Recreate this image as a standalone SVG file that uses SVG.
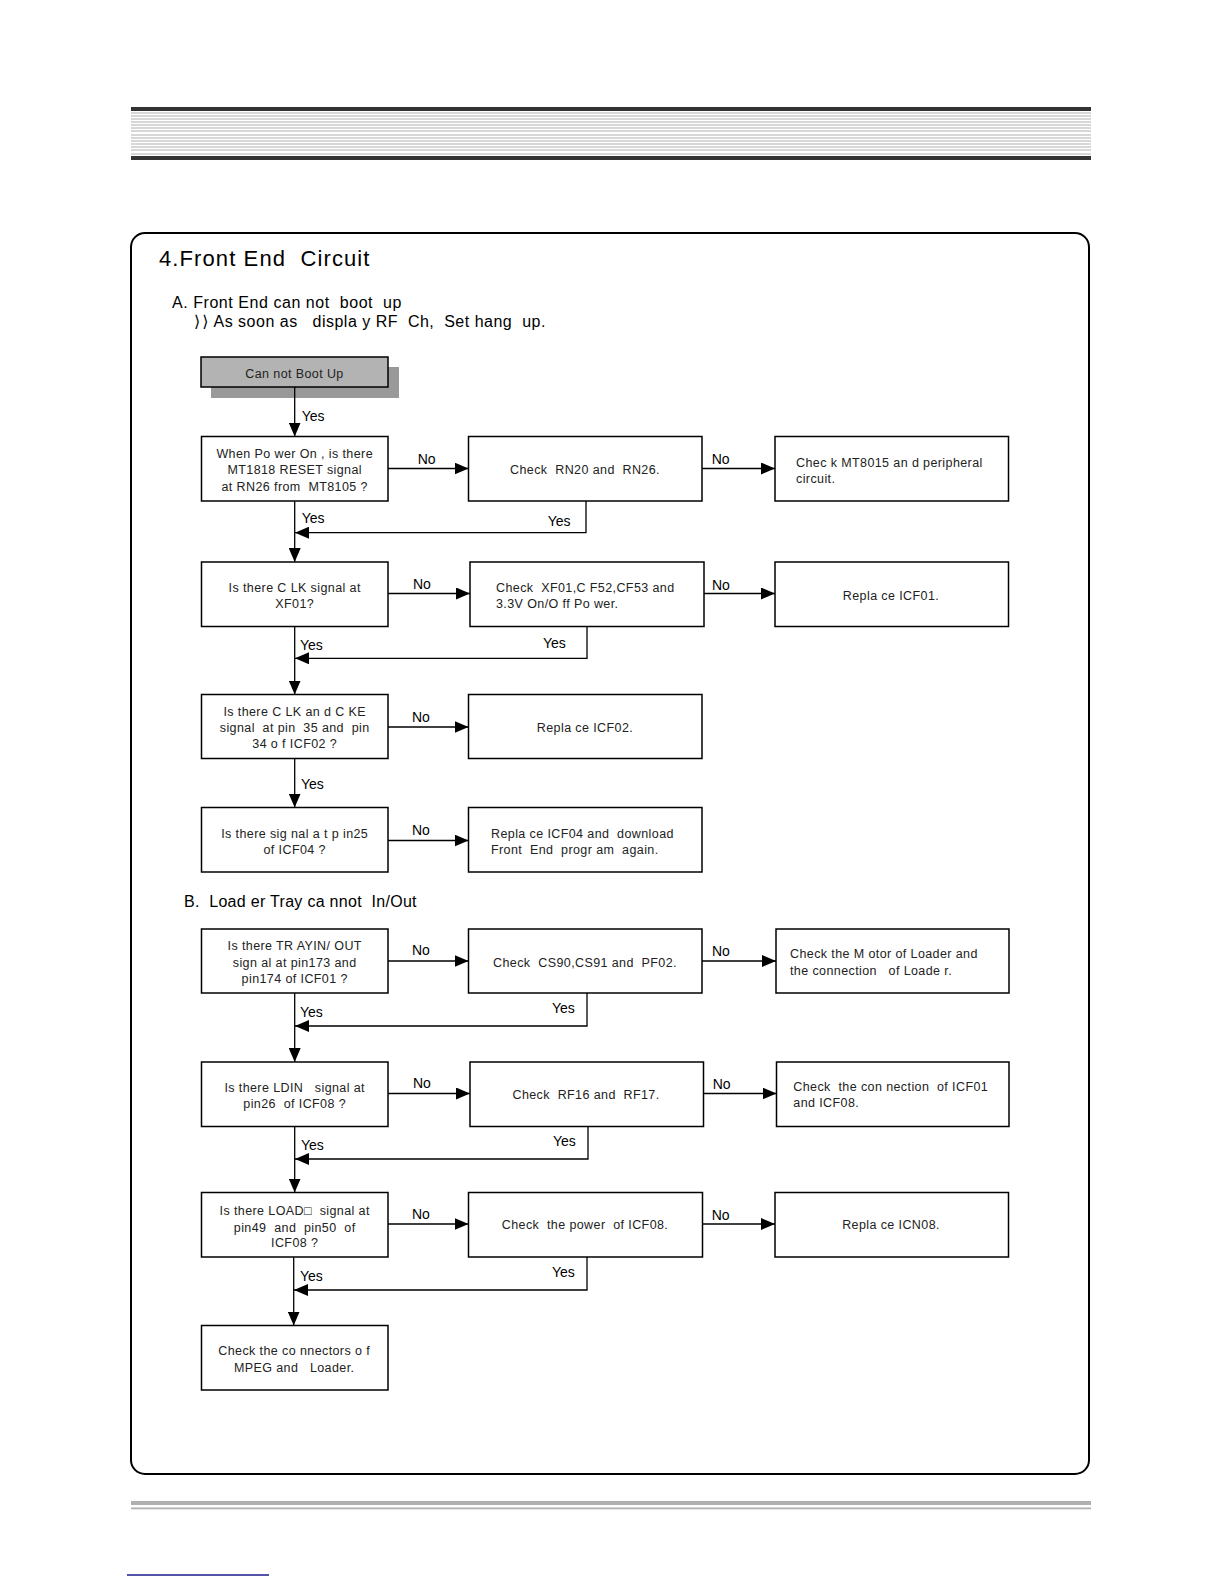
<svg xmlns="http://www.w3.org/2000/svg" width="1224" height="1584" viewBox="0 0 1224 1584" xml:space="preserve">
<style>
text{white-space:pre}
.node{fill:#fff;stroke:#000;stroke-width:1.5}
.t{font-family:"Liberation Sans",Arial,sans-serif;font-size:12.5px;letter-spacing:0.4px;fill:#222}
.c{text-anchor:middle}
.lbl{font-family:"Liberation Sans",Arial,sans-serif;font-size:14px;fill:#000}
.hd{font-family:"Liberation Sans",Arial,sans-serif;fill:#000}
.ln{fill:none;stroke:#000;stroke-width:1.3}
.gl{stroke:#b0b0b0;stroke-width:1.2}
</style>
<defs>
<marker id="ah" markerUnits="userSpaceOnUse" markerWidth="14" markerHeight="12" refX="14" refY="6" orient="auto" viewBox="0 0 14 12">
<path d="M0,0 L14,6 L0,12 z" fill="#000"/>
</marker>
</defs>
<rect width="1224" height="1584" fill="#fff"/>
<g id="header">
<rect x="131" y="107" width="960" height="4" fill="#333"/>
<g class="gl">
<line x1="131" y1="113" x2="1091" y2="113"/>
<line x1="131" y1="116" x2="1091" y2="116"/>
<line x1="131" y1="119" x2="1091" y2="119"/>
<line x1="131" y1="122" x2="1091" y2="122"/>
<line x1="131" y1="125" x2="1091" y2="125"/>
<line x1="131" y1="128" x2="1091" y2="128"/>
<line x1="131" y1="131" x2="1091" y2="131"/>
<line x1="131" y1="135" x2="1091" y2="135"/>
<line x1="131" y1="138" x2="1091" y2="138"/>
<line x1="131" y1="141" x2="1091" y2="141"/>
<line x1="131" y1="144" x2="1091" y2="144"/>
<line x1="131" y1="147" x2="1091" y2="147"/>
<line x1="131" y1="150" x2="1091" y2="150"/>
<line x1="131" y1="154" x2="1091" y2="154"/>
</g>
<rect x="131" y="156" width="960" height="4" fill="#333"/>
</g>
<g id="frame">
<rect x="131" y="233" width="958" height="1241" rx="14" ry="14" fill="none" stroke="#000" stroke-width="2"/>
</g>
<g id="footer">
<rect x="131" y="1501" width="960" height="4" fill="#b0b0b0"/>
<rect x="131" y="1507.5" width="960" height="1.8" fill="#b0b0b0"/>
<line x1="127" y1="1575" x2="269" y2="1575" stroke="#1a1a8c" stroke-width="1.5"/>
</g>
<g id="titles">
<text class="hd" x="159" y="266" font-size="22" letter-spacing="1.1">4.Front End  Circuit</text>
<text class="hd" x="172" y="308" font-size="16" letter-spacing="0.55">A. Front End can not  boot  up</text>
<text class="hd" x="194" y="327" font-size="16"><tspan font-family="'DejaVu Sans',sans-serif" font-size="16" letter-spacing="2">⟩⟩</tspan><tspan dx="3" letter-spacing="0.5">As soon as   displa y RF  Ch,  Set hang  up.</tspan></text>
<text class="hd" x="184" y="907" font-size="16" letter-spacing="0.3">B.  Load er Tray ca nnot  In/Out</text>
</g>
<g id="start">
<rect x="211" y="367" width="188" height="31" fill="#999"/>
<rect x="201" y="357" width="187" height="30" fill="#b3b3b3" stroke="#000" stroke-width="1.5"/>
<text class="t c" x="294.5" y="378" fill="#000">Can not Boot Up</text>
</g>
<g id="n1a"><rect class="node" x="201.5" y="436.5" width="186.5" height="64.5"/>
<text class="t c" x="294.7" y="457.5">When Po wer On , is there</text>
<text class="t c" x="294.7" y="474">MT1818 RESET signal</text>
<text class="t c" x="294.7" y="490.5">at RN26 from  MT8105 ?</text></g>
<g id="n1b"><rect class="node" x="468.5" y="436.5" width="233.5" height="64.5"/>
<text class="t c" x="585" y="474">Check  RN20 and  RN26.</text></g>
<g id="n1c"><rect class="node" x="775" y="436.5" width="233.5" height="64.5"/>
<text class="t" x="796" y="466.7">Chec k MT8015 an d peripheral</text>
<text class="t" x="796" y="483">circuit.</text></g>
<g id="n2a"><rect class="node" x="201.5" y="562" width="186.5" height="64.5"/>
<text class="t c" x="294.7" y="592">Is there C LK signal at</text>
<text class="t c" x="294.7" y="608">XF01?</text></g>
<g id="n2b"><rect class="node" x="470" y="562" width="234" height="64.5"/>
<text class="t" x="496" y="592">Check  XF01,C F52,CF53 and</text>
<text class="t" x="496" y="608">3.3V On/O ff Po wer.</text></g>
<g id="n2c"><rect class="node" x="775" y="562" width="233.5" height="64.5"/>
<text class="t c" x="891" y="599.5">Repla ce ICF01.</text></g>
<g id="n3a"><rect class="node" x="201.5" y="694.5" width="186.5" height="64"/>
<text class="t c" x="294.7" y="715.7">Is there C LK an d C KE</text>
<text class="t c" x="294.7" y="731.7">signal  at pin  35 and  pin</text>
<text class="t c" x="294.7" y="748.3">34 o f ICF02 ?</text></g>
<g id="n3b"><rect class="node" x="468.5" y="694.5" width="233.5" height="64"/>
<text class="t c" x="585" y="731.5">Repla ce ICF02.</text></g>
<g id="n4a"><rect class="node" x="201.5" y="807.5" width="186.5" height="64.5"/>
<text class="t c" x="294.7" y="838.3">Is there sig nal a t p in25</text>
<text class="t c" x="294.7" y="854.3">of ICF04 ?</text></g>
<g id="n4b"><rect class="node" x="468.5" y="807.5" width="233.5" height="64.5"/>
<text class="t" x="491" y="838">Repla ce ICF04 and  download</text>
<text class="t" x="491" y="854">Front  End  progr am  again.</text></g>
<g id="n5a"><rect class="node" x="201.5" y="929" width="186.5" height="64"/>
<text class="t c" x="294.7" y="950">Is there TR AYIN/ OUT</text>
<text class="t c" x="294.7" y="966.7">sign al at pin173 and</text>
<text class="t c" x="294.7" y="983.3">pin174 of ICF01 ?</text></g>
<g id="n5b"><rect class="node" x="468.5" y="929" width="233.5" height="64"/>
<text class="t c" x="585" y="966.7">Check  CS90,CS91 and  PF02.</text></g>
<g id="n5c"><rect class="node" x="776" y="929" width="233" height="64"/>
<text class="t" x="790" y="957.5">Check the M otor of Loader and</text>
<text class="t" x="790" y="974.5">the connection   of Loade r.</text></g>
<g id="n6a"><rect class="node" x="201.5" y="1062" width="186.5" height="64.5"/>
<text class="t c" x="294.7" y="1091.7">Is there LDIN   signal at</text>
<text class="t c" x="294.7" y="1108.3">pin26  of ICF08 ?</text></g>
<g id="n6b"><rect class="node" x="470" y="1062" width="233.5" height="64.5"/>
<text class="t c" x="586" y="1099.3">Check  RF16 and  RF17.</text></g>
<g id="n6c"><rect class="node" x="776.5" y="1062" width="232.5" height="64.5"/>
<text class="t" x="793.3" y="1090.7">Check  the con nection  of ICF01</text>
<text class="t" x="793.3" y="1107.3">and ICF08.</text></g>
<g id="n7a"><rect class="node" x="201.5" y="1192.5" width="186.5" height="64.5"/>
<text class="t c" x="294.7" y="1215">Is there LOAD□  signal at</text>
<text class="t c" x="294.7" y="1231.7">pin49  and  pin50  of</text>
<text class="t c" x="294.7" y="1247.3">ICF08 ?</text></g>
<g id="n7b"><rect class="node" x="468.5" y="1192.5" width="234" height="64.5" stroke-width="2.2"/>
<text class="t c" x="585" y="1229.3">Check  the power  of ICF08.</text></g>
<g id="n7c"><rect class="node" x="775" y="1192.5" width="233.5" height="64.5"/>
<text class="t c" x="891" y="1229">Repla ce ICN08.</text></g>
<g id="n8a"><rect class="node" x="201.5" y="1325.5" width="186.5" height="64.5"/>
<text class="t c" x="294.2" y="1355">Check the co nnectors o f</text>
<text class="t c" x="294.2" y="1371.7">MPEG and   Loader.</text></g>
<g id="connectors">
<g class="ln" marker-end="url(#ah)">
<path d="M294.7,387 V436.5"/>
<path d="M388,468.5 H468.5"/>
<path d="M702,468.5 H775"/>
<path d="M586,501 V532.7 H295"/>
<path d="M294.7,501 V562"/>
<path d="M388,593.5 H470"/>
<path d="M704,593.5 H775"/>
<path d="M587,626.5 V658.3 H295"/>
<path d="M294.7,626.5 V694.5"/>
<path d="M388,727 H468.5"/>
<path d="M294.7,758.5 V807.5"/>
<path d="M388,840.5 H468.5"/>
<path d="M388,961 H468.5"/>
<path d="M702,961 H776"/>
<path d="M587,993 V1026 H295"/>
<path d="M294.7,993 V1062"/>
<path d="M388,1093.5 H470"/>
<path d="M703.5,1093.5 H776.5"/>
<path d="M588,1126.5 V1159 H295"/>
<path d="M294.7,1126.5 V1192.5"/>
<path d="M388,1224 H468.5"/>
<path d="M702.5,1224 H775"/>
<path d="M587,1257 V1290 H294"/>
<path d="M293.7,1257 V1325.5"/>
</g>
<g class="lbl">
<text x="301.7" y="420.7">Yes</text>
<text x="417.7" y="464.3">No</text>
<text x="711.7" y="464.3">No</text>
<text x="301.7" y="523">Yes</text>
<text x="547.7" y="526">Yes</text>
<text x="413" y="589">No</text>
<text x="712" y="590">No</text>
<text x="300" y="650">Yes</text>
<text x="543" y="648">Yes</text>
<text x="412" y="721.7">No</text>
<text x="301" y="789">Yes</text>
<text x="412" y="835">No</text>
<text x="412" y="955">No</text>
<text x="712" y="956">No</text>
<text x="300" y="1016.7">Yes</text>
<text x="552" y="1013">Yes</text>
<text x="413" y="1088.3">No</text>
<text x="712.7" y="1089">No</text>
<text x="301" y="1150">Yes</text>
<text x="553" y="1146">Yes</text>
<text x="412" y="1219">No</text>
<text x="711.7" y="1220">No</text>
<text x="300" y="1280.7">Yes</text>
<text x="552" y="1276.7">Yes</text>
</g>
</g>
</svg>
